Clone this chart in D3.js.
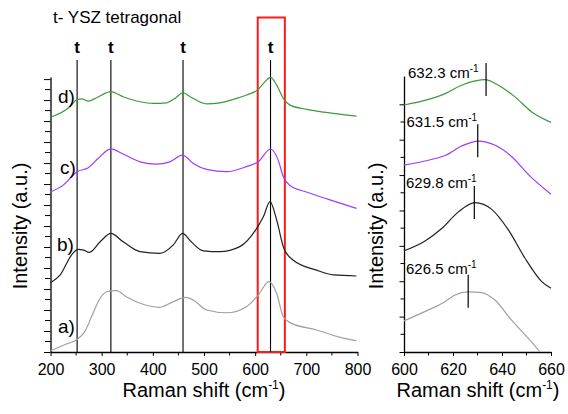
<!DOCTYPE html>
<html><head><meta charset="utf-8">
<script src="https://cdn.jsdelivr.net/npm/d3@7"></script>
<style>body{margin:0;background:#fff}svg{display:block}text{font-family:"Liberation Sans",Arial,sans-serif}</style>
</head><body>
<script>
// ---------- data ----------
const seriesNames = ["a)", "b)", "c)", "d)"];
const seriesColors = ["#a0a0a0", "#222222", "#9b3dff", "#3a9a3a"];
// Left panel: Raman shift (cm-1) and intensity (a.u., offset)
const shiftA = [200,231,252,267,283,297,310,329,348,375,414,440,464,479,505,544,583,606,627,642,655,668,720,766,798];
const intA   = [0.06,0.38,0.60,0.97,1.84,2.56,2.87,2.92,2.63,2.32,2.13,2.40,2.60,2.48,2.00,1.87,2.16,2.71,3.35,2.79,1.68,1.40,1.05,0.70,0.54];
const shiftB = [200,219,241,254,265,276,297,318,342,375,414,440,458,475,499,531,570,603,616,629,642,656,674,720,753,798];
const intB   = [3.30,3.67,4.62,4.89,4.85,4.75,5.25,5.65,5.25,4.78,4.70,5.10,5.65,5.25,4.82,4.78,5.02,5.89,6.44,7.16,6.29,4.94,4.38,3.90,3.67,3.62];
const shiftC = [200,225,252,274,293,318,342,375,407,433,458,479,505,544,583,606,630,645,655,668,700,743,798];
const intC   = [7.63,7.95,8.59,8.78,9.22,9.68,9.43,9.06,8.95,9.06,9.38,8.98,8.70,8.59,8.83,9.06,9.67,9.14,8.35,7.93,7.62,7.27,6.84];
const shiftD = [200,238,252,261,274,290,318,342,375,401,427,443,459,473,505,531,557,583,606,619,630,642,655,668,701,753,798];
const intD   = [11.18,11.68,12.03,12.06,11.95,12.11,12.40,12.16,11.92,11.84,11.87,12.08,12.35,12.16,11.82,11.87,12.03,12.24,12.51,12.87,13.08,12.71,12.08,11.76,11.56,11.37,11.24];
const tBands = [252, 318, 459, 630];
const boxRange = [605, 658];
// Right panel: zoom 600-660 cm-1
const zShiftA = [600,610,616.7,620.8,626.2,631.7,637.1,643.9,650.7,655.4];
const zIntA   = [0.88,1.19,1.42,1.61,1.70,1.68,1.47,0.90,0.39,0.01];
const zShiftB = [600,608.6,615.4,622.2,629,635.8,642.6,649.4,656.2,660];
const zIntB   = [2.86,3.14,3.49,3.96,4.22,4.03,3.45,2.65,1.99,1.80];
const zShiftC = [600,610,617,623.5,630.3,637,644,651,660];
const zIntC   = [5.28,5.42,5.56,5.82,5.96,5.85,5.52,5.00,4.46];
const zShiftD = [600,610,617,623.5,629,633,638.5,645.3,652,660];
const zIntD   = [6.98,7.14,7.31,7.54,7.66,7.70,7.54,7.21,6.79,6.49];
const peakLabels = ["626.5", "629.8", "631.5", "632.3"];
const peakMarks  = [626.2, 628.7, 630.1, 633.5];
const leftXTicks = [200,300,400,500,600,700,800];
const rightXTicks = [600,620,640,660];

// ---------- layout ----------
const W = 568, H = 414;
const svg = d3.select("body").append("svg").attr("width", W).attr("height", H);
const xL = d3.scaleLinear().domain([200, 800]).range([50.5, 357.5]);
const yL = d3.scaleLinear().domain([0, 13.1]).range([352, 77]);
const xR = d3.scaleLinear().domain([600, 660]).range([404, 551]);
const yR = d3.scaleLinear().domain([0, 7.8]).range([352, 76]);

const leftSeries = [[shiftA,intA],[shiftB,intB],[shiftC,intC],[shiftD,intD]];
const rightSeries = [[zShiftA,zIntA],[zShiftB,zIntB],[zShiftC,zIntC],[zShiftD,zIntD]];

function drawAxes(x, y, xTicks, xMinorStep, yMax, yTickLen) {
  const g = svg.append("g");
  const xa = d3.axisBottom(x).tickValues(xTicks).tickSize(4).tickSizeOuter(0).tickPadding(8);
  const gx = g.append("g").attr("transform", `translate(0,${y.range()[0]})`).call(xa);
  gx.selectAll("text").attr("font-size", 16).attr("fill", "#000");
  gx.select(".domain").attr("stroke", "#000").attr("stroke-width", 1.3);
  const d = x.domain();
  const minors = d3.range(d[0], d[1] + 0.001, xMinorStep).filter(v => !xTicks.includes(v));
  gx.selectAll(".mn").data(minors).enter().append("line")
    .attr("x1", v => x(v)).attr("x2", v => x(v)).attr("y1", 0).attr("y2", 3.5).attr("stroke", "#000");
  const yMaj = d3.range(0, yMax + 0.001, 1);
  const ya = d3.axisLeft(y).tickValues(yMaj).tickSize(yTickLen).tickSizeOuter(0).tickFormat("");
  const gy = g.append("g").attr("transform", `translate(${x.range()[0]},0)`).call(ya);
  gy.select(".domain").attr("stroke", "#000").attr("stroke-width", 1.3);
  const yMin = d3.range(0.5, yMax, 1);
  gy.selectAll(".mn").data(yMin).enter().append("line")
    .attr("x1", -(yTickLen - 1)).attr("x2", 0).attr("y1", v => y(v)).attr("y2", v => y(v)).attr("stroke", "#000");
}
drawAxes(xL, yL, leftXTicks, 50, 13, 6.5);
drawAxes(xR, yR, rightXTicks, 10, 7, 4.5);

const line = (x, y) => d3.line().x(d => x(d[0])).y(d => y(d[1])).curve(d3.curveMonotoneX);

// red box
svg.append("rect").attr("x", xL(boxRange[0])).attr("y", 17.5)
  .attr("width", xL(boxRange[1]) - xL(boxRange[0])).attr("height", yL(0) - 17.5)
  .attr("fill", "none").attr("stroke", "#ff1a1a").attr("stroke-width", 2);

// band lines
tBands.forEach(b => {
  svg.append("line").attr("x1", xL(b)).attr("x2", xL(b)).attr("y1", 60).attr("y2", yL(0))
    .attr("stroke", "#000").attr("stroke-width", 1.1);
  svg.append("text").attr("x", xL(b)).attr("y", 53).attr("text-anchor", "middle")
    .attr("font-size", 17).attr("font-weight", "bold").text("t");
});

// left curves
leftSeries.forEach((s, i) => {
  const pts = s[0].map((v, j) => [v, s[1][j]]);
  svg.append("path").attr("d", line(xL, yL)(pts)).attr("fill", "none")
    .attr("stroke", seriesColors[i]).attr("stroke-width", 1.2);
});
// right curves
rightSeries.forEach((s, i) => {
  const pts = s[0].map((v, j) => [v, s[1][j]]);
  svg.append("path").attr("d", line(xR, yR)(pts)).attr("fill", "none")
    .attr("stroke", seriesColors[i]).attr("stroke-width", 1.2);
  const interp = d3.scaleLinear().domain(s[0]).range(s[1]);
  const cy = yR(interp(peakMarks[i]));
  svg.append("line").attr("x1", xR(peakMarks[i])).attr("x2", xR(peakMarks[i]))
    .attr("y1", cy - 17).attr("y2", cy + 16).attr("stroke", "#000").attr("stroke-width", 1.2);
});

// series labels
const lblPos = [[58, 333], [57, 251], [60, 174], [58, 103]];
seriesNames.forEach((n, i) => {
  svg.append("text").attr("x", lblPos[i][0]).attr("y", lblPos[i][1]).attr("font-size", 19).text(n);
});

// peak labels
const pkPos = [[406, 274], [406, 188], [406.5, 127], [408, 78]];
peakLabels.forEach((p, i) => {
  const t = svg.append("text").attr("x", pkPos[i][0]).attr("y", pkPos[i][1]).attr("font-size", 15);
  t.append("tspan").text(p + " cm");
  t.append("tspan").attr("dy", -6).attr("font-size", 10).text("-1");
});

// title
svg.append("text").attr("x", 53).attr("y", 23).attr("font-size", 17).text("t- YSZ tetragonal");

// axis titles
function xTitle(cx) {
  const t = svg.append("text").attr("x", cx).attr("y", 397).attr("text-anchor", "middle").attr("font-size", 20);
  t.append("tspan").text("Raman shift (cm");
  t.append("tspan").attr("dy", -8).attr("font-size", 12).text("-1");
  t.append("tspan").attr("dy", 8).text(")");
}
xTitle(204);
xTitle(478);
[27, 383].forEach(x => {
  svg.append("text").attr("transform", `translate(${x},226) rotate(-90)`)
    .attr("text-anchor", "middle").attr("font-size", 20).text("Intensity (a.u.)");
});
</script>
</body></html>
